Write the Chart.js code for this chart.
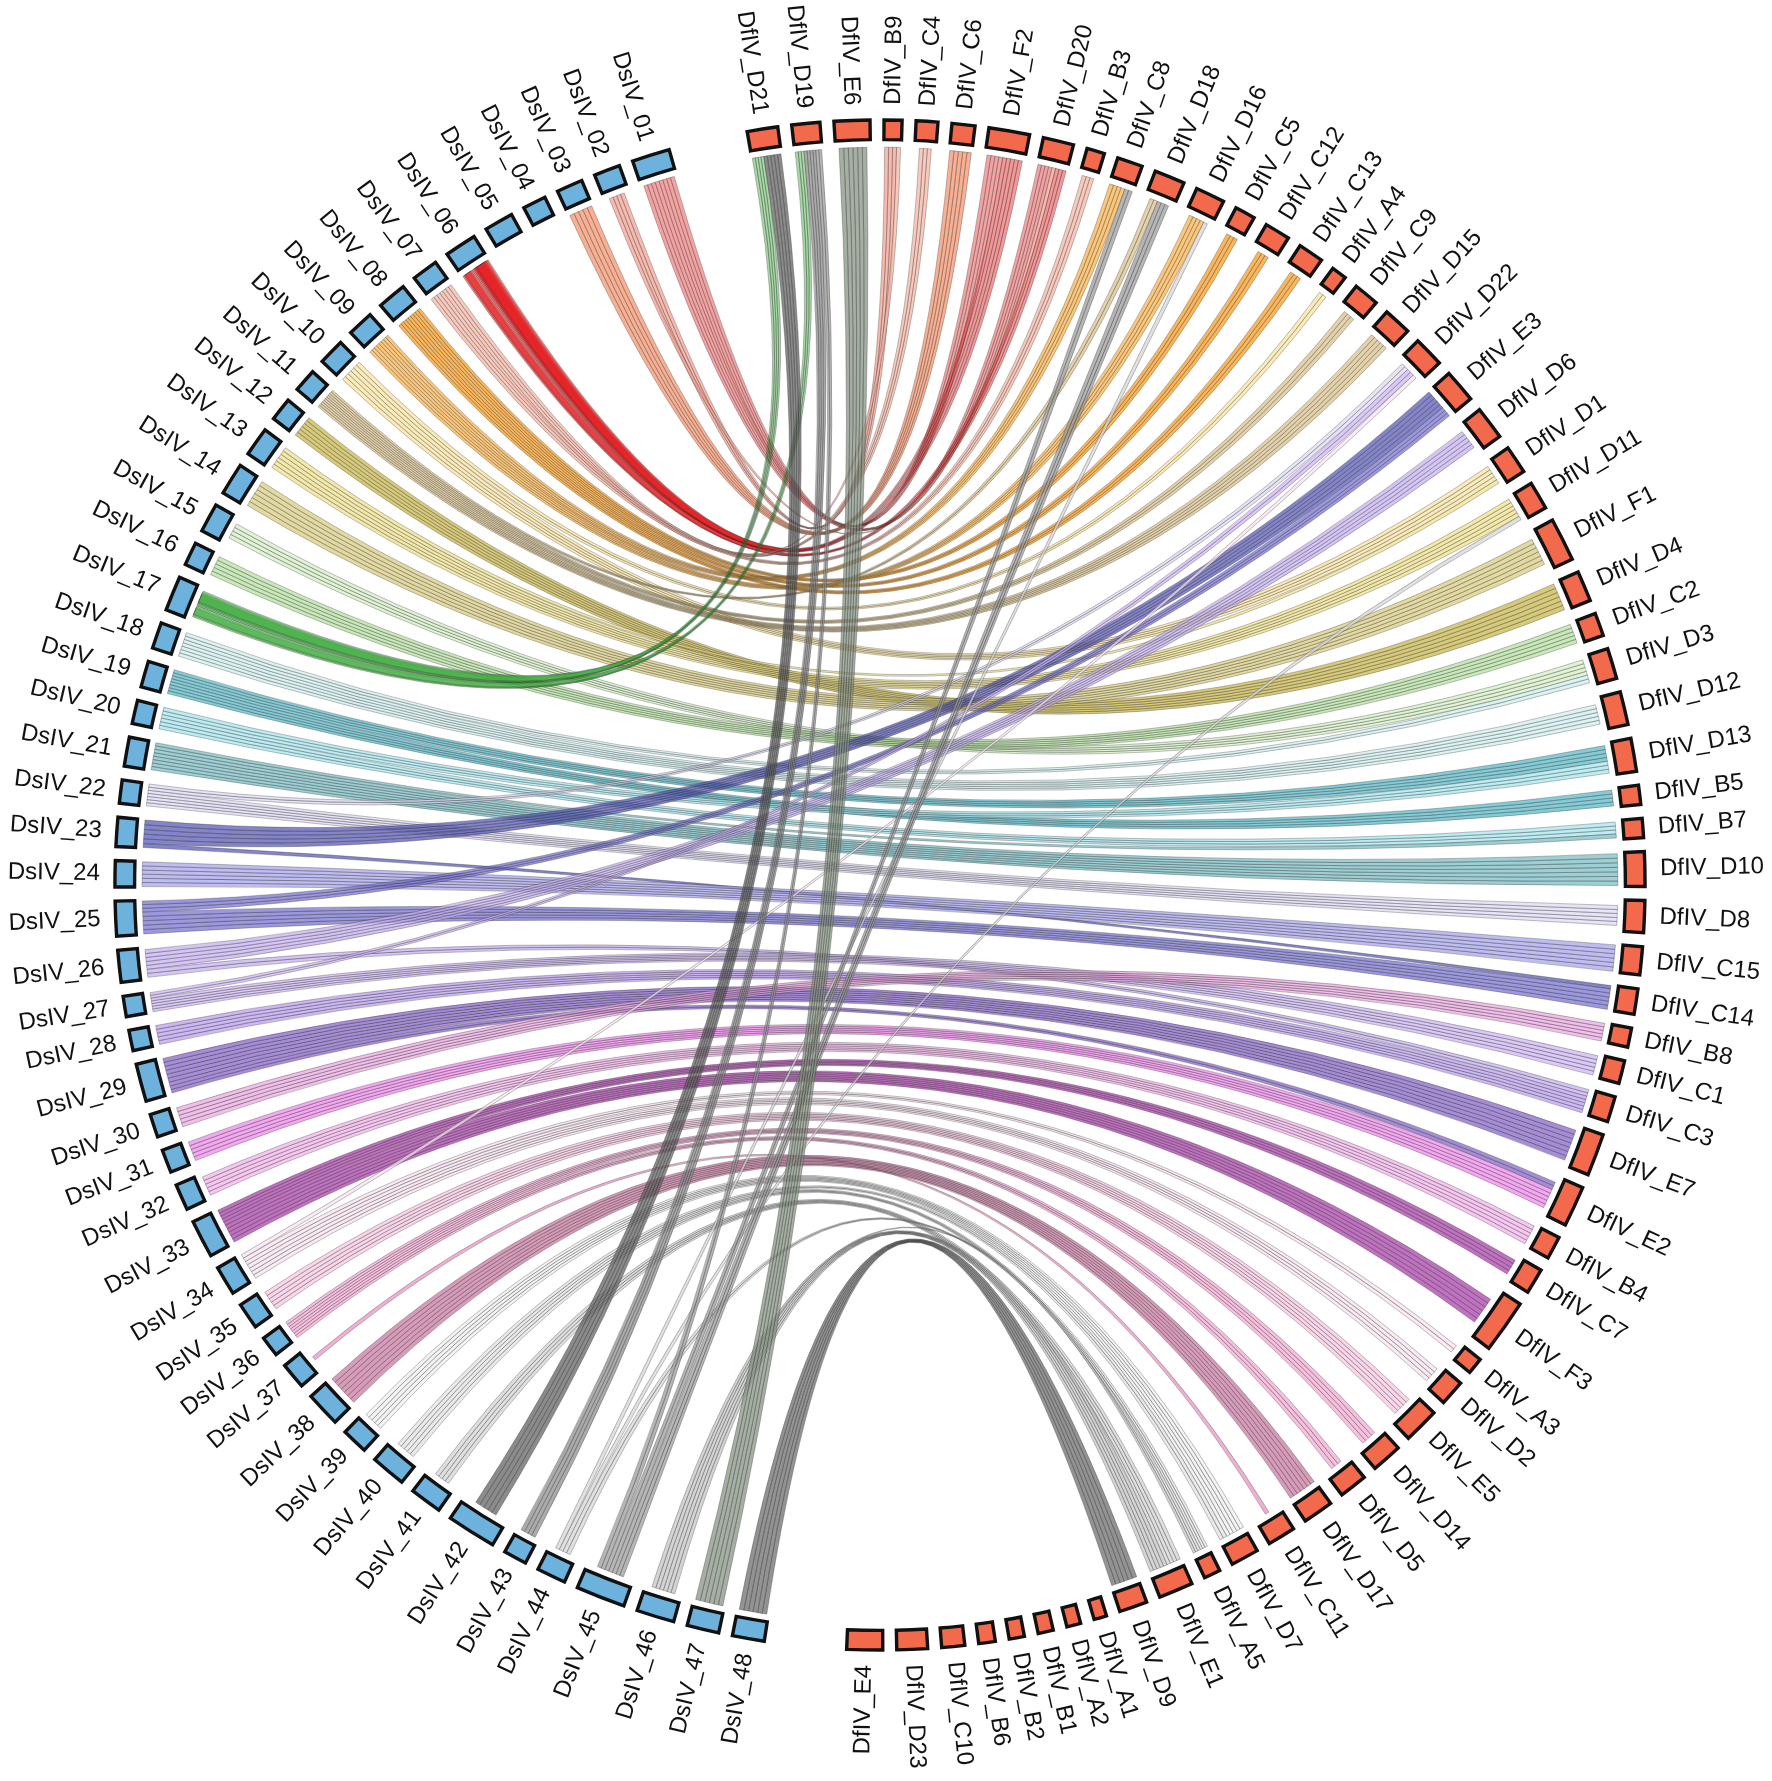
<!DOCTYPE html>
<html>
<head>
<meta charset="utf-8">
<script src="https://cdn.jsdelivr.net/npm/chart.js@4.4.1/dist/chart.umd.min.js"></script>
<style>
  html, body { margin: 0; padding: 0; background: #fff; }
  #wrap { width: 1772px; height: 1781px; position: relative; }
</style>
</head>
<body>
<div id="wrap"><canvas id="chord"></canvas></div>
<script>
// DsIV blocks, listed from the top of the left side downwards
const dsNames = ['DsIV_01','DsIV_02','DsIV_03','DsIV_04','DsIV_05','DsIV_06','DsIV_07','DsIV_08','DsIV_09','DsIV_10',
  'DsIV_11','DsIV_12','DsIV_13','DsIV_14','DsIV_15','DsIV_16','DsIV_17','DsIV_18','DsIV_19','DsIV_20',
  'DsIV_21','DsIV_22','DsIV_23','DsIV_24','DsIV_25','DsIV_26','DsIV_27','DsIV_28','DsIV_29','DsIV_30',
  'DsIV_31','DsIV_32','DsIV_33','DsIV_34','DsIV_35','DsIV_36','DsIV_37','DsIV_38','DsIV_39','DsIV_40',
  'DsIV_41','DsIV_42','DsIV_43','DsIV_44','DsIV_45','DsIV_46','DsIV_47','DsIV_48'];
// relative block lengths
const dsSizes = [1.3,0.9,0.9,0.8,1.0,1.1,0.9,1.0,0.9,0.9, 0.8,0.8,1.0,1.1,1.0,0.8,1.2,0.9,0.9,0.8,
  1.0,0.8,1.0,0.9,1.2,1.1,0.7,0.7,1.3,0.8, 0.8,0.9,1.3,1.0,0.9,0.7,0.9,1.2,0.9,1.2, 1.1,1.7,0.8,1.0,1.7,1.3,1.1,1.1];

// DfIV blocks, clockwise from the top
const dfNames = ['DfIV_D21','DfIV_D19','DfIV_E6','DfIV_B9','DfIV_C4','DfIV_C6','DfIV_F2','DfIV_D20','DfIV_B3','DfIV_C8',
  'DfIV_D18','DfIV_D16','DfIV_C5','DfIV_C12','DfIV_C13','DfIV_A4','DfIV_C9','DfIV_D15','DfIV_D22','DfIV_E3',
  'DfIV_D6','DfIV_D1','DfIV_D11','DfIV_F1','DfIV_D4','DfIV_C2','DfIV_D3','DfIV_D12','DfIV_D13','DfIV_B5',
  'DfIV_B7','DfIV_D10','DfIV_D8','DfIV_C15','DfIV_C14','DfIV_B8','DfIV_C1','DfIV_C3','DfIV_E7','DfIV_E2',
  'DfIV_B4','DfIV_C7','DfIV_F3','DfIV_A3','DfIV_D2','DfIV_E5','DfIV_D14','DfIV_D5','DfIV_D17','DfIV_C11',
  'DfIV_D7','DfIV_A5','DfIV_E1','DfIV_D9','DfIV_A1','DfIV_A2','DfIV_B1','DfIV_B2','DfIV_B6','DfIV_C10',
  'DfIV_D23','DfIV_E4'];
const dfSizes = [24,22,28,14,17,18,32,24,14,20, 24,23,16,20,20,12,20,22,24,26,
  26,22,22,34,24,18,24,26,26,15, 15,27,25,22,20,15,18,20,33,32,
  18,20,42,13,20,28,24,22,24,22, 22,13,27,22,10,11,12,12,13,18, 24,28];

// syntenic links: [DsIV block, DfIV block, weight]
const links = [
  ['DsIV_01','DfIV_F2',4], ['DsIV_01','DfIV_D20',4],
  ['DsIV_02','DfIV_B9',3], ['DsIV_02','DfIV_D20',1],
  ['DsIV_03','DfIV_C6',6],
  ['DsIV_06','DfIV_F2',5], ['DsIV_06','DfIV_D20',3],
  ['DsIV_07','DfIV_C4',3], ['DsIV_07','DfIV_B3',3], ['DsIV_07','DfIV_B9',1],
  ['DsIV_08','DfIV_C5',3], ['DsIV_08','DfIV_C12',3], ['DsIV_08','DfIV_C13',3],
  ['DsIV_09','DfIV_C8',4], ['DsIV_09','DfIV_D16',4],
  ['DsIV_10','DfIV_A4',2], ['DsIV_10','DfIV_D1',4],
  ['DsIV_11','DfIV_C9',3], ['DsIV_11','DfIV_D15',5], ['DsIV_11','DfIV_D18',2],
  ['DsIV_12','DfIV_D4',7],
  ['DsIV_13','DfIV_D11',5], ['DsIV_13','DfIV_D1',1],
  ['DsIV_14','DfIV_F1',7],
  ['DsIV_15','DfIV_D3',4],
  ['DsIV_16','DfIV_C2',5],
  ['DsIV_17','DfIV_D21',4], ['DsIV_17','DfIV_D19',3],
  ['DsIV_18','DfIV_D12',5], ['DsIV_18','DfIV_D3',2],
  ['DsIV_19','DfIV_D13',4], ['DsIV_19','DfIV_B5',4],
  ['DsIV_20','DfIV_D13',3], ['DsIV_20','DfIV_B7',3],
  ['DsIV_21','DfIV_D10',8], ['DsIV_21','DfIV_B7',1],
  ['DsIV_22','DfIV_D8',5], ['DsIV_22','DfIV_D22',2],
  ['DsIV_23','DfIV_E3',6], ['DsIV_23','DfIV_C14',1],
  ['DsIV_24','DfIV_C15',7],
  ['DsIV_25','DfIV_C14',6], ['DsIV_25','DfIV_E3',3],
  ['DsIV_26','DfIV_D6',5], ['DsIV_26','DfIV_C3',2],
  ['DsIV_27','DfIV_C1',5], ['DsIV_27','DfIV_D22',2],
  ['DsIV_28','DfIV_C3',5],
  ['DsIV_29','DfIV_E7',8], ['DsIV_29','DfIV_E2',2],
  ['DsIV_30','DfIV_B8',5],
  ['DsIV_31','DfIV_E2',5],
  ['DsIV_32','DfIV_B4',5],
  ['DsIV_33','DfIV_F3',7], ['DsIV_33','DfIV_C7',4],
  ['DsIV_34','DfIV_A3',2], ['DsIV_34','DfIV_D2',4], ['DsIV_34','DfIV_D22',1],
  ['DsIV_35','DfIV_E5',5],
  ['DsIV_36','DfIV_D14',4], ['DsIV_36','DfIV_D5',3],
  ['DsIV_37','DfIV_C11',1],
  ['DsIV_38','DfIV_D17',8],
  ['DsIV_39','DfIV_D7',5],
  ['DsIV_40','DfIV_A5',3], ['DsIV_40','DfIV_D7',2],
  ['DsIV_41','DfIV_E1',4],
  ['DsIV_42','DfIV_D21',6],
  ['DsIV_43','DfIV_D19',4],
  ['DsIV_44','DfIV_D11',1], ['DsIV_44','DfIV_D16',1], ['DsIV_44','DfIV_A5',2],
  ['DsIV_45','DfIV_D18',3], ['DsIV_45','DfIV_C8',2], ['DsIV_45','DfIV_D19',2],
  ['DsIV_46','DfIV_E1',5], ['DsIV_46','DfIV_A5',1],
  ['DsIV_47','DfIV_E6',7],
  ['DsIV_48','DfIV_D9',7]
];

// link colour of each DsIV block
const dsColors = ['#f08080','#f4a090','#f4926a','#f4a582','#e8604c','#e41a1c','#f5b5a5','#f79a1e','#f9b24a','#f9e3a0',
  '#d8c08a','#c9b648','#eee08a','#d8cc80','#d4eec4','#b4e0a0','#3fae3f','#d0eeee','#58b8c8','#a4e4ee',
  '#78bcc4','#dcdaf2','#5454b4','#a6a2ec','#7670d0','#c4aef0','#cdb6f4','#b89cee','#8462c8','#eaa6e2',
  '#ee86ec','#f2b2ea','#a63ca6','#f6e2f0','#f6c6e2','#f4a8d2','#e890c0','#c8769e','#eeeeee','#e2e2e2',
  '#d2d2d2','#5e5e5e','#8a8a8a','#d6d6d6','#9a9a9a','#c4c4c4','#84907f','#6a6a6a'];
// sources whose strands pile up at the DsIV end (darker there, lighter at the DfIV end)
const denseSources = ['DsIV_06','DsIV_17'];

// geometry (degrees clockwise from the top, radius 1 = 756 px)
const CX = 880, CY = 885, UNIT = 756, W = 1772, H = 1781;
const LEFT_START = 188.7, LEFT_END = 344.0, RIGHT_START = -10.0, RIGHT_END = 182.5, GAP = 1.05;
const R_IN = 0.986, R_OUT = 1.012, R_LINK = 0.976, R_LABEL = 1.032;
const DEG_PER_WEIGHT = 0.31;

function layout(sizes, start, end, gap) {
  const sum = sizes.reduce((a, b) => a + b, 0);
  const k = (end - start - gap * (sizes.length - 1)) / sum;
  let a = start;
  return sizes.map(s => { const seg = { a0: a, a1: a + s * k }; a += s * k + gap; return seg; });
}
const dsArcs = layout(dsSizes.slice().reverse(), LEFT_START, LEFT_END, GAP).reverse();
const dfArcs = layout(dfSizes, RIGHT_START, RIGHT_END, GAP);
const mid = s => (s.a0 + s.a1) / 2;

// place each link end inside its block
const linkEnds = links.map(([s, t, w]) => ({ s: dsNames.indexOf(s), t: dfNames.indexOf(t), w, dense: denseSources.includes(s) }));
function packEnds(arcs, key, otherArcs, otherKey, endName) {
  arcs.forEach((arc, i) => {
    const own = linkEnds.filter(l => l[key] === i)
      .sort((p, q) => mid(otherArcs[q[otherKey]]) - mid(otherArcs[p[otherKey]]));
    if (!own.length) return;
    const span = arc.a1 - arc.a0;
    const total = own.reduce((a, l) => a + l.w * DEG_PER_WEIGHT, 0);
    const f = total > span * 0.97 ? span * 0.97 / total : 1;
    let a = mid(arc) - total * f / 2;
    own.forEach(l => { const d = l.w * DEG_PER_WEIGHT * f; l[endName] = [a, a + d]; a += d; });
  });
}
packEnds(dsArcs, 's', dfArcs, 't', 'src');
packEnds(dfArcs, 't', dsArcs, 's', 'dst');

function rgba(hex, a) {
  const n = parseInt(hex.slice(1), 16);
  return `rgba(${n >> 16},${(n >> 8) & 255},${n & 255},${a})`;
}

const chordPlugin = {
  id: 'chord',
  afterDraw(chart) {
    const ctx = chart.ctx, xs = chart.scales.x, ys = chart.scales.y;
    const cx = xs.getPixelForValue(0), cy = ys.getPixelForValue(0);
    const unit = xs.getPixelForValue(1) - cx;
    const rad = t => (t - 90) * Math.PI / 180;
    const pt = (t, r) => {
      const a = t * Math.PI / 180;
      return [xs.getPixelForValue(r * Math.sin(a)), ys.getPixelForValue(r * Math.cos(a))];
    };
    const rl = R_LINK * unit;

    // links
    linkEnds.forEach(l => {
      const [a0, a1] = l.src, [b0, b1] = l.dst;
      const n = Math.max(1, Math.min(9, Math.round(l.w * 0.9)));
      const da = (a1 - a0) / n, db = (b1 - b0) / n;
      const col = dsColors[l.s];
      for (let j = 0; j < n; j++) {
        let s0 = a0 + da * j, s1 = s0 + da;
        if (l.dense) { s0 = a0 + da * j * 0.35; s1 = a1 - da * (n - 1 - j) * 0.35; }
        const t1 = b1 - db * j, t0 = t1 - db;
        ctx.beginPath();
        ctx.arc(cx, cy, rl, rad(s0), rad(s1));
        let p = pt(t0, R_LINK);
        ctx.quadraticCurveTo(cx, cy, p[0], p[1]);
        ctx.arc(cx, cy, rl, rad(t0), rad(t1));
        p = pt(s0, R_LINK);
        ctx.quadraticCurveTo(cx, cy, p[0], p[1]);
        ctx.closePath();
        ctx.fillStyle = rgba(col, l.dense ? 0.45 : 0.72);
        ctx.fill();
        ctx.strokeStyle = 'rgba(30,30,30,0.34)';
        ctx.lineWidth = 0.85;
        ctx.stroke();
      }
    });

    // blocks
    const drawBlock = (arc, fill) => {
      ctx.beginPath();
      ctx.arc(cx, cy, R_OUT * unit, rad(arc.a0), rad(arc.a1));
      ctx.arc(cx, cy, R_IN * unit, rad(arc.a1), rad(arc.a0), true);
      ctx.closePath();
      ctx.fillStyle = fill;
      ctx.fill();
      ctx.strokeStyle = '#111';
      ctx.lineWidth = 3.4;
      ctx.lineJoin = 'miter';
      ctx.stroke();
    };
    dsArcs.forEach(a => drawBlock(a, '#6cb2dd'));
    dfArcs.forEach(a => drawBlock(a, '#f3694c'));

    // labels
    ctx.font = '24px "Liberation Sans", Arial, sans-serif';
    ctx.fillStyle = '#111';
    ctx.textBaseline = 'middle';
    const label = (arc, text) => {
      const t = mid(arc);
      const tn = ((t % 360) + 360) % 360;
      const p = pt(t, R_LABEL);
      ctx.save();
      ctx.translate(p[0], p[1]);
      if (tn < 180) { ctx.rotate(rad(t)); ctx.textAlign = 'left'; }
      else { ctx.rotate(rad(t) + Math.PI); ctx.textAlign = 'right'; }
      ctx.fillText(text, 0, 0);
      ctx.restore();
    };
    dsArcs.forEach((a, i) => label(a, dsNames[i]));
    dfArcs.forEach((a, i) => label(a, dfNames[i]));
  }
};

new Chart(document.getElementById('chord'), {
  type: 'scatter',
  data: {
    datasets: [{
      data: dsArcs.concat(dfArcs).map(a => ({ x: Math.sin(mid(a) * Math.PI / 180), y: Math.cos(mid(a) * Math.PI / 180) })),
      pointRadius: 0
    }]
  },
  options: {
    responsive: true,
    maintainAspectRatio: false,
    animation: false,
    events: [],
    layout: { padding: 0, autoPadding: false },
    plugins: { legend: { display: false }, tooltip: { enabled: false } },
    scales: {
      x: { type: 'linear', display: false, min: -CX / UNIT, max: (W - CX) / UNIT },
      y: { type: 'linear', display: false, min: -(H - CY) / UNIT, max: CY / UNIT }
    }
  },
  plugins: [chordPlugin]
});
</script>
</body>
</html>
